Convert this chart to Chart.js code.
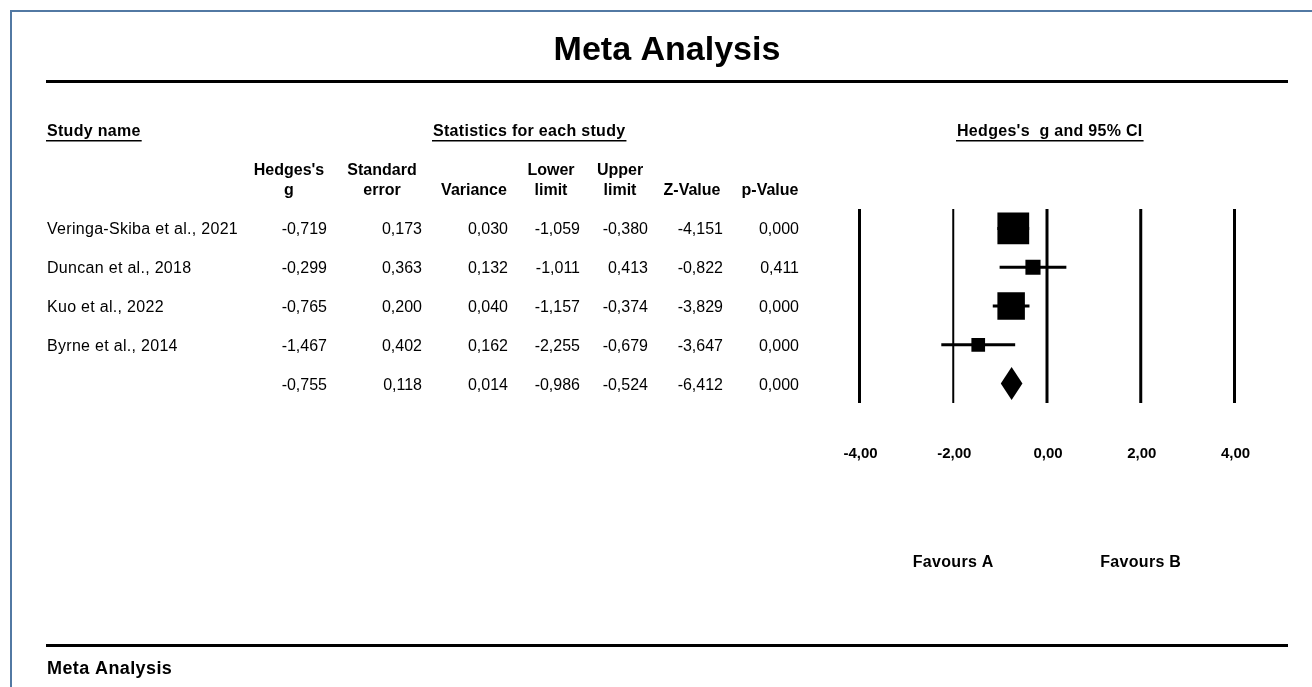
<!DOCTYPE html>
<html>
<head>
<meta charset="utf-8">
<title>Meta Analysis</title>
<script src="https://cdn.jsdelivr.net/npm/chart.js@4.4.1/dist/chart.umd.min.js"></script>
<style>
  html, body { margin: 0; padding: 0; background: #ffffff; overflow: hidden; }
  canvas { display: block; }
</style>
</head>
<body>
<canvas id="forest" width="1312" height="687"></canvas>
<script>
// ---- Study-level statistics ----
const studyNames = ['Veringa-Skiba et al., 2021', 'Duncan et al., 2018', 'Kuo et al., 2022', 'Byrne et al., 2014'];
const hedgesG   = [-0.719, -0.299, -0.765, -1.467];
const stdError  = [0.173, 0.363, 0.200, 0.402];
const variances = [0.030, 0.132, 0.040, 0.162];
const lowerLim  = [-1.059, -1.011, -1.157, -2.255];
const upperLim  = [-0.380, 0.413, -0.374, -0.679];
const zValues   = [-4.151, -0.822, -3.829, -3.647];
const pValues   = [0.000, 0.411, 0.000, 0.000];

// ---- Pooled (summary) row: g, SE, variance, lower, upper, Z, p ----
const pooledStats = [-0.755, 0.118, 0.014, -0.986, -0.524, -6.412, 0.000];

// ---- Axis ----
const axisTicks = [-4, -2, 0, 2, 4];
const sideLabels = ['Favours A', 'Favours B'];

// ---- Page layout (pixels) ----
const FONT = "'Liberation Sans', Arial, sans-serif";
const valueCols = [327, 422, 508, 580, 648, 723, 799];       // right edges of numeric columns
const headerCols = [
  { x: 289, lines: ['Hedges\'s', 'g'] },
  { x: 382, lines: ['Standard', 'error'] },
  { x: 474, lines: ['', 'Variance'] },
  { x: 551, lines: ['Lower', 'limit'] },
  { x: 620, lines: ['Upper', 'limit'] },
  { x: 692, lines: ['', 'Z-Value'] },
  { x: 770, lines: ['', 'p-Value'] }
];

const fmt3 = v => v.toFixed(3).replace('.', ',');
const fmt2 = v => v.toFixed(2).replace('.', ',');
const rowOf = i => i + 0.5;
const nRows = studyNames.length + 1;

// box side proportional to the square root of the study weight (1 / variance)
const boxSide = variances.map(v => 5.5 / Math.sqrt(v));
const boxRadius = boxSide.map(s => s / Math.SQRT2);

function underlined(ctx, text, x, y) {
  ctx.fillText(text, x, y);
  const w = ctx.measureText(text).width;
  ctx.fillRect(x - 1, y + 4, w + 2, 1.5);
}

const pagePlugin = {
  id: 'pagePlugin',
  beforeDraw(chart) {
    const ctx = chart.ctx;
    ctx.save();
    ctx.fillStyle = '#ffffff';
    ctx.fillRect(0, 0, chart.width, chart.height);

    // window frame
    ctx.fillStyle = '#5279a3';
    ctx.fillRect(10, 10, chart.width - 10, 2);
    ctx.fillRect(10, 10, 2, chart.height - 10);

    // rules
    ctx.fillStyle = '#000000';
    ctx.fillRect(46, 80, 1242, 3);
    ctx.fillRect(46, 644, 1242, 3);

    // title + footer
    ctx.textBaseline = 'alphabetic';
    ctx.textAlign = 'center';
    ctx.font = 'bold 34px ' + FONT;
    ctx.fillText('Meta Analysis', 667, 60);
    ctx.textAlign = 'left';
    ctx.font = 'bold 18px ' + FONT;
    ctx.letterSpacing = '0.4px';
    ctx.fillText('Meta Analysis', 47, 674);
    ctx.letterSpacing = '0px';

    // section headings
    ctx.font = 'bold 16px ' + FONT;
    ctx.letterSpacing = '0.3px';
    underlined(ctx, 'Study name', 47, 136);
    underlined(ctx, 'Statistics for each study', 433, 136);
    underlined(ctx, 'Hedges\'s  g and 95% CI', 957, 136);
    ctx.letterSpacing = '0px';

    // column headings
    ctx.textAlign = 'center';
    headerCols.forEach(h => {
      if (h.lines[0]) ctx.fillText(h.lines[0], h.x, 175);
      ctx.fillText(h.lines[1], h.x, 195);
    });
    ctx.restore();
  },
  beforeDatasetsDraw(chart) {
    const { ctx, chartArea } = chart;
    const xs = chart.scales.x;
    ctx.save();
    ctx.strokeStyle = '#000000';
    axisTicks.forEach(t => {
      ctx.lineWidth = t === -2 ? 2 : 3;
      const px = xs.getPixelForValue(t);
      ctx.beginPath();
      ctx.moveTo(px, chartArea.top);
      ctx.lineTo(px, chartArea.bottom);
      ctx.stroke();
    });
    ctx.restore();
  },
  afterDatasetsDraw(chart) {
    const ctx = chart.ctx;
    const xs = chart.scales.x, ys = chart.scales.y;
    ctx.save();

    // pooled diamond
    const cy = ys.getPixelForValue(rowOf(studyNames.length));
    const xl = xs.getPixelForValue(pooledStats[3]);
    const xu = xs.getPixelForValue(pooledStats[4]);
    const xm = xs.getPixelForValue(pooledStats[0]);
    ctx.fillStyle = '#000000';
    ctx.beginPath();
    ctx.moveTo(xl, cy);
    ctx.lineTo(xm, cy - 16.5);
    ctx.lineTo(xu, cy);
    ctx.lineTo(xm, cy + 16.5);
    ctx.closePath();
    ctx.fill();

    // table rows
    ctx.textBaseline = 'alphabetic';
    ctx.font = '16px ' + FONT;
    const rows = studyNames.map((n, i) => [n, [hedgesG[i], stdError[i], variances[i], lowerLim[i], upperLim[i], zValues[i], pValues[i]]]);
    rows.push(['', pooledStats]);
    rows.forEach((r, i) => {
      const base = ys.getPixelForValue(rowOf(i)) + 6;
      ctx.textAlign = 'left';
      ctx.letterSpacing = '0.3px';
      ctx.fillText(r[0], 47, base);
      ctx.letterSpacing = '0px';
      ctx.textAlign = 'right';
      r[1].forEach((v, c) => ctx.fillText(fmt3(v), valueCols[c], base));
    });

    // axis tick labels
    ctx.font = 'bold 15px ' + FONT;
    ctx.textAlign = 'center';
    axisTicks.forEach(t => ctx.fillText(fmt2(t), xs.getPixelForValue(t) + 1, 458));

    // side labels
    ctx.font = 'bold 16px ' + FONT;
    ctx.letterSpacing = '0.3px';
    ctx.fillText(sideLabels[0], xs.getPixelForValue(-2), 567);
    ctx.fillText(sideLabels[1], xs.getPixelForValue(2), 567);
    ctx.restore();
  }
};

// confidence-interval whiskers, one line per study
const whiskerSets = studyNames.map((n, i) => ({
  label: n,
  data: [{ x: lowerLim[i], y: rowOf(i) }, { x: upperLim[i], y: rowOf(i) }],
  showLine: true,
  borderColor: '#000000',
  borderWidth: 3,
  pointRadius: 0,
  order: 2
}));

const boxSet = {
  label: 'Hedges\'s g',
  data: hedgesG.map((g, i) => ({ x: g, y: rowOf(i) })),
  pointStyle: 'rect',
  pointRadius: boxRadius,
  backgroundColor: '#000000',
  borderColor: '#000000',
  borderWidth: 0,
  order: 1
};

new Chart(document.getElementById('forest'), {
  type: 'scatter',
  data: { datasets: [...whiskerSets, boxSet] },
  options: {
    responsive: false,
    animation: false,
    events: [],
    layout: { padding: { left: 859.5, right: 77.5, top: 209, bottom: 284 } },
    scales: {
      x: { type: 'linear', min: -4, max: 4, display: false },
      y: { type: 'linear', min: 0, max: nRows, reverse: true, display: false }
    },
    plugins: {
      legend: { display: false },
      tooltip: { enabled: false }
    }
  },
  plugins: [pagePlugin]
});
</script>
</body>
</html>
